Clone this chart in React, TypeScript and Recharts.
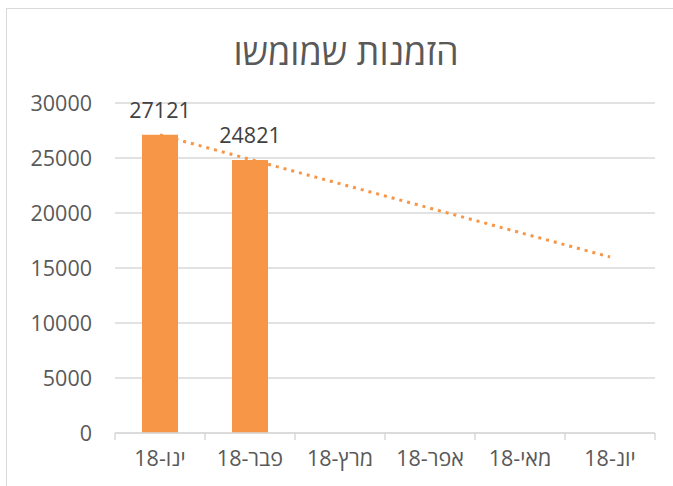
import React from "react";
import { ComposedChart, Bar, Line, XAxis, YAxis, CartesianGrid, LabelList } from "recharts";

const months = ["ינו-18", "פבר-18", "מרץ-18", "אפר-18", "מאי-18", "יונ-18"];
const orders = [27121, 24821, null, null, null, null];
const trend = [27100, null, null, null, null, 16000];
const yTicks = [0, 5000, 10000, 15000, 20000, 25000, 30000];
const boundaryTicks = [0, 1, 2, 3, 4, 5, 6];
const title = "הזמנות שמומשו";

const data = months.map((m, i) => ({ month: m, orders: orders[i], trend: trend[i], idx: i + 0.5 }));

const FONT = "'Open Sans', 'Liberation Sans', 'DejaVu Sans', sans-serif";

const NoTick = () => <g />;

export default function App() {
  return (
    <div style={{ position: "absolute", left: 0, top: 0, width: 673, height: 486, overflow: "hidden", background: "#fff" }}>
      <div style={{ position: "absolute", left: 6, top: 8, width: 720, height: 520, borderLeft: "1px solid #d9d9d9", borderTop: "1px solid #d9d9d9" }} />
      <div style={{ position: "absolute", left: 0, top: 0 }}>
        <ComposedChart width={673} height={486} data={data} margin={{ top: 103, right: 18, bottom: 0, left: 0 }} style={{ fontFamily: FONT }}>
          <text x={346} y={55} textAnchor="middle" dominantBaseline="middle" fontSize={36} fill="#595959" fontFamily={FONT}>{title}</text>
          <CartesianGrid horizontal vertical={false} stroke="#d9d9d9" strokeWidth={1.5} />
          <XAxis xAxisId="b" type="number" dataKey="idx" domain={[0, 6]} ticks={boundaryTicks} tick={NoTick} tickSize={7} height={1} stroke="#d9d9d9" strokeWidth={1.5} allowDataOverflow />
          <XAxis xAxisId="c" dataKey="month" axisLine={false} tickLine={false} tickSize={0} tickMargin={17} height={52} tick={{ fill: "#595959", fontSize: 21.5, fontFamily: FONT }} interval={0} />
          <YAxis domain={[0, 30000]} ticks={yTicks} width={115} axisLine={false} tickLine={false} tickSize={0} tickMargin={23} tick={{ fill: "#595959", fontSize: 21.5, fontFamily: FONT }} />
          <Bar xAxisId="c" dataKey="orders" fill="#f79646" barSize={36} isAnimationActive={false}>
            <LabelList dataKey="orders" position="top" offset={17} fill="#404040" fontSize={21.5} fontFamily={FONT} />
          </Bar>
          <Line xAxisId="b" dataKey="trend" connectNulls stroke="#f79646" strokeWidth={3} strokeDasharray="3 5" dot={false} activeDot={false} isAnimationActive={false} />
        </ComposedChart>
      </div>
    </div>
  );
}
